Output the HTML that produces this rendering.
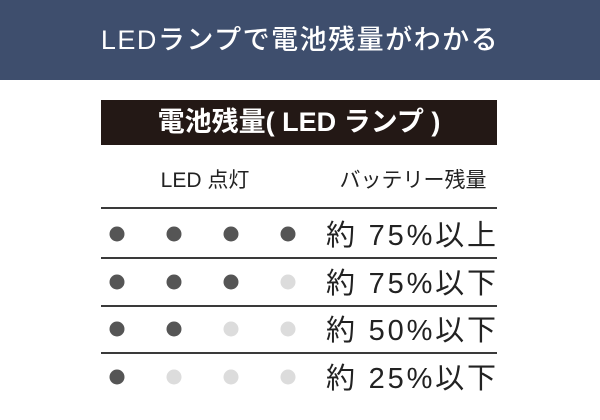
<!DOCTYPE html>
<html><head><meta charset="utf-8"><style>
body{margin:0;width:600px;height:420px;background:#fff;position:relative;overflow:hidden;font-family:"Liberation Sans","Noto Sans CJK JP",sans-serif}
.a{position:absolute;white-space:nowrap}
</style></head><body>
<div class="a" style="left:0;top:0;width:600px;height:80px;background:#3e4e6d"></div>
<div class="a" style="left:0;top:0;width:600px;height:80px;line-height:80px;text-align:center;color:#fff;font-size:27px;font-weight:500;letter-spacing:1.5px">LEDランプで電池残量がわかる</div>
<div class="a" style="left:101px;top:100px;width:396px;height:45px;background:#231815"></div>
<div class="a" style="left:101px;top:100px;width:396px;height:45px;line-height:45px;text-align:center;color:#fff;font-size:27px;font-weight:bold">電池残量( LED ランプ )</div>
<div class="a" style="left:150px;top:164px;width:110px;text-align:center;font-size:21px;color:#222">LED 点灯</div>
<div class="a" style="left:328px;top:164px;width:170px;text-align:center;font-size:21px;color:#222">バッテリー残量</div>
<svg class="a" style="left:0;top:0" width="600" height="420">
<g id="g"></g>
</svg>
<script>
const rowLabels=["約 75%以上","約 75%以下","約 50%以下","約 25%以下"];
const litCounts=[4,3,2,1];
const g=document.getElementById('g');
const ns='http://www.w3.org/2000/svg';
const lineY=[208,258,306,353];
const dotY=[234,282,329,377];
const dotX=[117,174,231,288];
rowLabels.forEach((lab,i)=>{
  const l=document.createElementNS(ns,'rect');
  
  
  l.setAttribute('x',101);l.setAttribute('y',lineY[i]-1);l.setAttribute('width',396);l.setAttribute('height',2);l.setAttribute('fill','#3a3a3a');
  g.appendChild(l);
  dotX.forEach((x,j)=>{
    const c=document.createElementNS(ns,'circle');
    
    
    c.setAttribute('cx',x);c.setAttribute('cy',dotY[i]);c.setAttribute('r',7.5);
    c.setAttribute('fill',j<litCounts[i]?'#555':'#dcdcdc');
    g.appendChild(c);
  });
  const t=document.createElementNS(ns,'text');
  
  
  t.setAttribute('x',326);t.setAttribute('y',dotY[i]+11);
  t.setAttribute('font-size','29');t.setAttribute('fill','#222');
  t.setAttribute('textLength','170');
  t.textContent=lab;
  g.appendChild(t);
});
</script>
</body></html>
